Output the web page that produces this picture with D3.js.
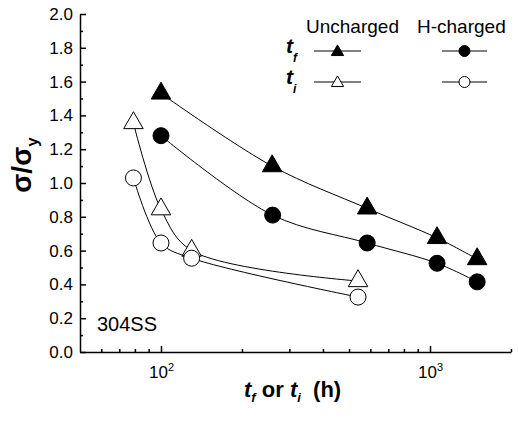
<!DOCTYPE html>
<html>
<head>
<meta charset="utf-8">
<script src="https://cdn.jsdelivr.net/npm/d3@7"></script>
<style>
  body { margin: 0; background: #fff; }
  svg { font-family: Arial, "Liberation Sans", sans-serif; }
  .axis path, .axis line { stroke: #000; stroke-width: 1.5; }
  .axis text { font-size: 17px; fill: #000; }
</style>
</head>
<body>
<div id="chart"></div>
<script>
// data (time in h, stress ratio sigma/sigma_y)
const tfUnchargedT = [100, 259, 584, 1062, 1497];
const tfUnchargedS = [1.53, 1.10, 0.85, 0.675, 0.55];
const tfChargedT = [100, 260, 584, 1062, 1497];
const tfChargedS = [1.28, 0.81, 0.645, 0.525, 0.415];
const tiUnchargedT = [79, 100, 130, 540];
const tiUnchargedS = [1.355, 0.845, 0.60, 0.42];
const tiChargedT = [79, 100, 130, 540];
const tiChargedS = [1.03, 0.645, 0.555, 0.325];

const yMajor = [0, 0.2, 0.4, 0.6, 0.8, 1.0, 1.2, 1.4, 1.6, 1.8, 2.0];
const yMinor = [0.1, 0.3, 0.5, 0.7, 0.9, 1.1, 1.3, 1.5, 1.7, 1.9];
const xMajor = [100, 1000];
const xMinor = [60, 70, 80, 90, 200, 300, 400, 500, 600, 700, 800, 900, 2000];

const W = 518, H = 424;
const margin = { top: 14, right: 7, bottom: 72, left: 80 };
const width = W - margin.left - margin.right;
const height = H - margin.top - margin.bottom;

const svg = d3.select("#chart").append("svg")
    .attr("width", W)
    .attr("height", H);

const g = svg.append("g")
    .attr("transform", `translate(${margin.left}, ${margin.top})`);

const x = d3.scaleLog().domain([50, 2000]).range([0, width]);
const y = d3.scaleLinear().domain([0, 2.0]).range([height, 0]);

// y axis: inward ticks, labels on the left
g.append("g").attr("class", "axis")
    .call(d3.axisLeft(y).tickValues(yMinor).tickSize(-3).tickFormat(""))
    .select(".domain").remove();
g.append("g").attr("class", "axis")
    .call(d3.axisLeft(y).tickValues(yMajor).tickSizeInner(-6).tickSizeOuter(0)
        .tickPadding(7).tickFormat(d3.format(".1f")));

// x axis
g.append("g").attr("class", "axis")
    .attr("transform", `translate(0, ${height})`)
    .call(d3.axisBottom(x).tickValues(xMinor).tickSize(-3).tickFormat(""))
    .select(".domain").remove();
const xAxis = g.append("g").attr("class", "axis")
    .attr("transform", `translate(0, ${height})`)
    .call(d3.axisBottom(x).tickValues(xMajor).tickSizeInner(-6).tickSizeOuter(0)
        .tickPadding(14).tickFormat(""));
xAxis.selectAll(".tick text").each(function(d) {
    const t = d3.select(this).attr("font-size", 16);
    t.append("tspan").text("10");
    t.append("tspan").attr("dy", "-0.6em").attr("font-size", 11).text(Math.round(Math.log10(d)));
});

// curves and markers
const series = [
    { t: tfUnchargedT, s: tfUnchargedS, shape: "tri", fill: "#000" },
    { t: tfChargedT, s: tfChargedS, shape: "circ", fill: "#000" },
    { t: tiUnchargedT, s: tiUnchargedS, shape: "tri", fill: "#fff" },
    { t: tiChargedT, s: tiChargedS, shape: "circ", fill: "#fff" }
];

const line = d3.line()
    .x(d => x(d[0]))
    .y(d => y(d[1]))
    .curve(d3.curveCatmullRom.alpha(0.5));

const triangle = d3.symbol().type(d3.symbolTriangle).size(165);

series.forEach(se => {
    const pts = se.t.map((t, i) => [t, se.s[i]]);
    g.append("path")
        .datum(pts)
        .attr("d", line)
        .attr("fill", "none")
        .attr("stroke", "#000")
        .attr("stroke-width", 1);

    const m = g.selectAll(null).data(pts).enter();
    if (se.shape === "tri") {
        m.append("path")
            .attr("d", triangle)
            .attr("transform", d => `translate(${x(d[0])}, ${y(d[1])})`)
            .attr("fill", se.fill)
            .attr("stroke", "#000")
            .attr("stroke-width", 1);
    } else {
        m.append("circle")
            .attr("cx", d => x(d[0]))
            .attr("cy", d => y(d[1]))
            .attr("r", 8)
            .attr("fill", se.fill)
            .attr("stroke", "#000")
            .attr("stroke-width", 1);
    }
});

// legend
const legend = svg.append("g").attr("font-size", 19);
legend.append("text").attr("x", 306).attr("y", 33).text("Uncharged");
legend.append("text").attr("x", 417).attr("y", 33).text("H-charged");

const legRows = [
    { label: "f", y: 51, fill: "#000" },
    { label: "i", y: 82, fill: "#fff" }
];
const legSym = d3.symbol().type(d3.symbolTriangle).size(65);
legRows.forEach(r => {
    const lt = legend.append("text").attr("x", 286).attr("y", r.y + 2)
        .attr("font-weight", "bold").attr("font-style", "italic").attr("font-size", 21);
    lt.append("tspan").text("t");
    lt.append("tspan").attr("dy", 9).attr("font-size", 12).text(r.label);

    [[314, 361], [442, 487]].forEach((seg, k) => {
        legend.append("line")
            .attr("x1", seg[0]).attr("x2", seg[1])
            .attr("y1", r.y).attr("y2", r.y)
            .attr("stroke", "#000").attr("stroke-width", 1);
        const cx = (seg[0] + seg[1]) / 2;
        if (k === 0) {
            legend.append("path").attr("d", legSym)
                .attr("transform", `translate(${cx}, ${r.y + 1})`)
                .attr("fill", r.fill).attr("stroke", "#000").attr("stroke-width", 1);
        } else {
            legend.append("circle").attr("cx", cx).attr("cy", r.y).attr("r", 5.5)
                .attr("fill", r.fill).attr("stroke", "#000").attr("stroke-width", 1);
        }
    });
});

// annotation
svg.append("text").attr("x", 97).attr("y", 331).attr("font-size", 20).text("304SS");

// axis titles
const xt = svg.append("text").attr("x", 244).attr("y", 397)
    .attr("font-size", 22).attr("font-weight", "bold");
xt.append("tspan").attr("font-style", "italic").text("t");
xt.append("tspan").attr("font-style", "italic").attr("font-size", 13).attr("dy", 5).text("f");
xt.append("tspan").attr("dy", -5).text(" or ");
xt.append("tspan").attr("font-style", "italic").text("t");
xt.append("tspan").attr("font-style", "italic").attr("font-size", 13).attr("dy", 5).text("i");
xt.append("tspan").attr("dy", -5).attr("xml:space", "preserve").text("  (h)");

const yt = svg.append("text")
    .attr("transform", "translate(31, 165) rotate(-90)")
    .attr("text-anchor", "middle")
    .attr("font-size", 28).attr("font-weight", "bold");
yt.append("tspan").text("σ/σ");
yt.append("tspan").attr("font-size", 17).attr("dy", 7).text("y");
</script>
</body>
</html>
